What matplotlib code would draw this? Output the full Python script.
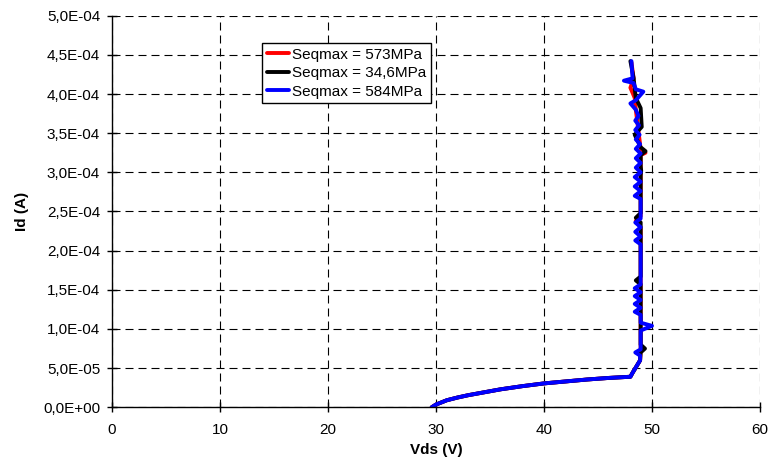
import numpy as np
import matplotlib.pyplot as plt

plt.rcParams['font.family'] = ['Liberation Sans', 'DejaVu Sans']

# rising part shared by all three curves (Vds in V, Id in A)
vds_base = [29.6, 30.0, 31.0, 32.0, 33.0, 34.0, 35.0, 36.0, 38.0, 40.0, 42.0, 44.0, 46.0, 48.0]
id_base = [0.0, 0.35e-5, 0.9e-5, 1.25e-5, 1.55e-5, 1.8e-5, 2.05e-5, 2.3e-5, 2.7e-5,
           3.05e-5, 3.3e-5, 3.55e-5, 3.75e-5, 3.9e-5]

# breakdown part, Id in units of 1e-4 A
vds_red = [48.2, 48.9, 48.95, 48.95, 48.5, 48.95, 48.95, 49.4, 48.95, 48.5, 48.4, 48.0, 48.3, 48.1]
id_red = [0.44, 0.60, 0.74, 2.30, 2.38, 2.44, 3.22, 3.25, 3.30, 3.80, 3.95, 4.08, 4.20, 4.40]

vds_black = [48.2, 48.9, 48.95, 49.35, 48.95, 48.95, 48.5, 48.95, 48.95, 48.5, 48.95,
             48.95, 49.0, 48.95, 48.95, 49.4, 48.95, 48.4, 49.05, 48.95, 48.5, 48.3, 48.0]
id_black = [0.44, 0.60, 0.70, 0.75, 0.80, 1.57, 1.62, 1.67, 2.36, 2.42, 2.48,
            2.96, 3.02, 3.08, 3.22, 3.27, 3.32, 3.48, 3.58, 3.82, 3.95, 4.20, 4.42]

vds_blue = [48.2, 48.9, 48.9, 48.45, 48.95, 48.95, 50.0, 48.95, 48.95,
            48.4, 48.95, 48.4, 48.95, 48.4, 48.95, 48.4, 48.95, 48.95,
            48.45, 48.95, 48.45, 48.95, 48.45, 48.95, 48.95,
            48.4, 48.95, 48.4, 48.95, 48.4, 48.95,
            48.5, 48.95, 48.5, 48.95, 48.5, 48.9, 48.5, 48.85, 48.45, 48.8, 48.45, 48.75,
            48.5, 48.0, 48.5, 49.2, 48.5, 48.3, 47.4, 48.2, 48.1]
id_blue = [0.44, 0.60, 0.66, 0.70, 0.74, 0.98, 1.04, 1.08, 1.18,
           1.22, 1.27, 1.32, 1.37, 1.42, 1.47, 1.52, 1.57, 2.08,
           2.13, 2.18, 2.24, 2.30, 2.36, 2.41, 2.66,
           2.70, 2.76, 2.82, 2.88, 2.94, 3.00,
           3.06, 3.12, 3.18, 3.24, 3.30, 3.36, 3.42, 3.48, 3.54, 3.60, 3.66, 3.72,
           3.80, 3.88, 3.92, 4.03, 4.06, 4.14, 4.17, 4.20, 4.42]

labels = ["Seqmax = 573MPa", "Seqmax = 34,6MPa", "Seqmax = 584MPa"]
colors = ["#ff0000", "#000000", "#0000ff"]

x_ticks = [0, 10, 20, 30, 40, 50, 60]
y_ticks = [0, 0.5e-4, 1.0e-4, 1.5e-4, 2.0e-4, 2.5e-4, 3.0e-4, 3.5e-4, 4.0e-4, 4.5e-4, 5.0e-4]
y_ticklabels = ["0,0E+00", "5,0E-05", "1,0E-04", "1,5E-04", "2,0E-04", "2,5E-04",
                "3,0E-04", "3,5E-04", "4,0E-04", "4,5E-04", "5,0E-04"]

#%%
fig = plt.figure(figsize=(7.69, 4.68), dpi=100)
ax = fig.add_axes([0.1456, 0.1297, 0.8427, 0.8368])

series = [(vds_red, id_red), (vds_black, id_black), (vds_blue, id_blue)]
for (vx, vy), lab, col in zip(series, labels, colors):
    x = vds_base + vx
    y = id_base + [v * 1e-4 for v in vy]
    ax.plot(x, y, color=col, lw=2.8, label=lab, solid_joinstyle='round',
            solid_capstyle='round')

ax.set_xlim(0, 60)
ax.set_ylim(0, 5e-4)
ax.set_xticks(x_ticks)
ax.set_yticks(y_ticks)
ax.set_yticklabels(y_ticklabels)
ax.tick_params(direction='inout', length=7, width=1, labelsize=11, colors='black')
ax.tick_params(axis='y', pad=5)
ax.tick_params(axis='x', pad=8)

ax.grid(True, color='black', lw=0.8, linestyle=(0, (7.2, 4.5)))
ax.set_axisbelow(True)
for s in ['top', 'right']:
    ax.spines[s].set_visible(False)
for s in ['left', 'bottom']:
    ax.spines[s].set_linewidth(1)

ax.set_xlabel("Vds (V)", fontsize=11, fontweight='bold', labelpad=4)
ax.set_ylabel("Id (A)", fontsize=11, fontweight='bold', labelpad=10)

leg = ax.legend(loc='upper left', bbox_to_anchor=(0.2315, 0.930), borderaxespad=0,
                fontsize=11, fancybox=False, edgecolor='black', framealpha=1,
                handlelength=1.5, handletextpad=0.15, labelspacing=0.3,
                borderpad=0.3)
leg.get_frame().set_linewidth(1)
for line in leg.get_lines():
    line.set_linewidth(2.8)

plt.savefig("out.png", dpi=100)
